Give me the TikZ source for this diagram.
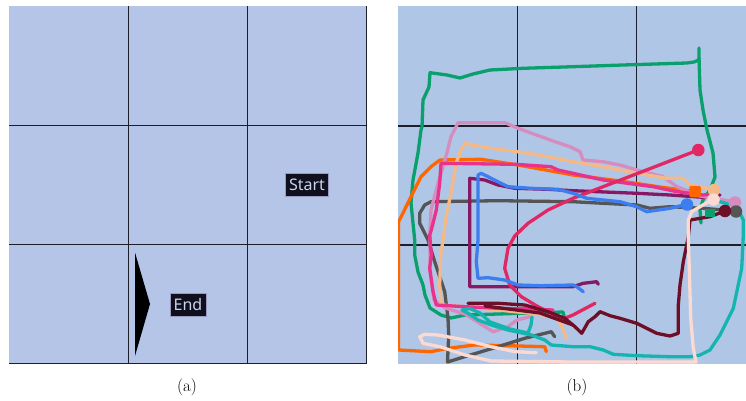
\documentclass[tikz,border=0pt]{standalone}
\usepackage{fontspec}
\newfontfamily\labelfont{Noto Sans}
\definecolor{bgA}{RGB}{180,197,232}
\definecolor{bgB}{RGB}{176,198,230}
\definecolor{gridc}{RGB}{28,30,42}
\definecolor{boxc}{RGB}{15,15,30}
\definecolor{boxtxt}{RGB}{200,212,240}
\definecolor{cgreen}{RGB}{10,160,110}
\definecolor{corange}{RGB}{255,102,0}
\definecolor{cmag}{RGB}{232,50,140}
\definecolor{ccrim}{RGB}{225,40,100}
\definecolor{cmauve}{RGB}{214,140,190}
\definecolor{cpeach}{RGB}{245,185,135}
\definecolor{cblue}{RGB}{60,125,240}
\definecolor{cpurple}{RGB}{135,25,100}
\definecolor{cgray}{RGB}{85,85,85}
\definecolor{cmaroon}{RGB}{110,15,40}
\definecolor{cteal}{RGB}{20,180,175}
\definecolor{cpink}{RGB}{252,218,210}
\begin{document}
\begin{tikzpicture}[x=1pt,y=-1pt,
  gridline/.style={draw=gridc,line width=1.3pt},
  traj/.style={line width=3.3pt,line join=round,line cap=round},
  lab/.style={fill=boxc,draw=black!60!blue!40,line width=0.4pt,text=boxtxt,font=\labelfont\fontsize{16}{16}\selectfont,inner xsep=3.5pt,inner ysep=0pt,minimum height=23pt},
  captext/.style={font=\fontsize{17}{19}\selectfont,inner sep=0pt},
  dotm/.style={circle,inner sep=0pt,minimum size=12.5pt}]
\useasboundingbox (0,0) rectangle (746,401);
\fill[white] (0,0) rectangle (746,401);
% ---------- panel (a)
\fill[bgA] (9,6.5) rectangle (367,363.5);
\draw[gridline] (128.3,6.5) -- (128.3,363.5);
\draw[gridline] (247.8,6.5) -- (247.8,363.5);
\draw[gridline] (9,125.3) -- (367,125.3);
\draw[gridline] (9,244.7) -- (367,244.7);
\draw[gridc,line width=1pt] (366.8,6.5) -- (366.8,363.5) -- (9,363.5);
\fill[black] (135,252.5) -- (150,304) -- (135,356) -- cycle;
\node[lab] (start) at (307,184.7) {Start};
\node[lab] (end) at (188,304.5) {End};
\node[captext] (capa) at (187,387) {(a)};
% ---------- panel (b)
\begin{scope}
\clip (398,6.5) rectangle (746,363.5);
\fill[bgB] (398,6.5) rectangle (746,363.5);
\draw[gridline] (517.3,6.5) -- (517.3,363.5);
\draw[gridline] (636.8,6.5) -- (636.8,363.5);
\draw[gridline] (398,126) -- (746,126);
\draw[gridline] (398,245) -- (746,245);
% green
\draw[traj,cgreen] (699,48) -- (699,60) -- (694,62) -- (687,63) -- (623,65) -- (573,66.7) -- (523,68.3) -- (490,70) -- (473,74) -- (460,78) -- (447,75) -- (430,72.7) -- (429,87) -- (423,100) -- (422,127) -- (421,130) -- (418,153) -- (413,180) -- (411,203) -- (414.7,240) -- (414.7,255) -- (418,272) -- (423,285) -- (425,295) -- (430,308) -- (441,315) -- (451,318) -- (465,315) -- (498,314) -- (531,313) -- (563,312) -- (565,320);
\draw[traj,cgreen] (699,58) -- (700,90) -- (703,110) -- (707,130) -- (713,153) -- (715,177) -- (710,190) -- (703,200) -- (700,210) -- (701,223);
% orange
\draw[traj,corange] (695,191.7) -- (660,187) -- (620,181) -- (573,175) -- (555,171.7) -- (518,165) -- (481,159.3) -- (440,160) -- (431,166.7) -- (421,176.7) -- (411,196.7) -- (403,213) -- (398.5,222) -- (398.5,350) -- (431,351.7) -- (448,348.3) -- (475,345) -- (508,345.7) -- (544.7,346.7) -- (546.3,351.7);
% gray
\draw[traj,cgray] (735,211.7) -- (723,210) -- (703,208.3) -- (670,206.7) -- (650,208.3) -- (637,205) -- (603,203.3) -- (573,201.7) -- (498,200.7) -- (431,201.7) -- (424.7,205) -- (419.7,213.3) -- (419.7,223.3) -- (424.7,233.3) -- (428,240) -- (434.7,261.7) -- (444.7,291.7) -- (448,318.3) -- (448.7,335) -- (447.5,362) -- (464.7,356.7) -- (498,346.7) -- (524.7,338.3) -- (551.3,331.7) -- (554.7,336.7);
% purple
\draw[traj,cpurple] (720,195) -- (703,197.3) -- (670,195) -- (637,193.3) -- (573,190.7) -- (548,189.3) -- (514.7,188.3) -- (498,185) -- (484.7,180) -- (469.7,178.3) -- (469.7,286.7) -- (573,286.7) -- (583.3,283.3) -- (596.7,281.7) -- (598.3,284.3);
% mauve
\draw[traj,cmauve] (735,202) -- (700,196) -- (677,186.7) -- (663,176.7) -- (637,170) -- (620,165) -- (603,161.7) -- (583,160) -- (580,151.7) -- (570,146.7) -- (555,141.7) -- (518,128.3) -- (505,122.7) -- (458,122.7) -- (451,136.7) -- (445,160) -- (438,183.3) -- (431,210) -- (430,230) -- (430,270) -- (434,300) -- (445,308) -- (465,314) -- (477,321.7) -- (493,331.7) -- (508,326.7) -- (517,320) -- (530,316.7);
% peach
\draw[traj,cpeach] (715,190) -- (707,188.3) -- (690,185) -- (683,178.3) -- (667,178.3) -- (637,173.3) -- (603,166.7) -- (573,161.7) -- (548,156.7) -- (518,151.7) -- (491,148.3) -- (471,145) -- (466,142.7) -- (461,150) -- (456,163.3) -- (451,193.3) -- (446,216.7) -- (443,240) -- (440.7,255) -- (439.7,285) -- (441.3,305) -- (464.7,306.7) -- (498,310) -- (531,313.3) -- (554.7,316.7) -- (561.3,325) -- (566.5,338.3);
% magenta
\draw[traj,cmag] (713,194) -- (703,195) -- (677,191.7) -- (653,186.7) -- (603,180) -- (573,173.3) -- (558,170) -- (551,166.7) -- (515,164.3) -- (441,163.3) -- (439.7,183.3) -- (436.3,210) -- (431.3,230) -- (429.7,235) -- (431.3,255) -- (429.7,268.3) -- (433,291.7) -- (436.3,305) -- (464.7,306.7) -- (498,308.3) -- (531,309) -- (553,310);
% crimson
\draw[traj,ccrim] (698.3,150) -- (573,198.3) -- (548,210) -- (528,223.3) -- (514.7,236) -- (508,248.3) -- (504.7,268.3) -- (509.7,285) -- (521.3,296.7) -- (538,306.7) -- (554.7,315) -- (564.7,318.3) -- (573,315) -- (595,303.3);
% blue
\draw[traj,cblue] (686.7,204.3) -- (670,208.3) -- (646.7,211.7) -- (636.7,206.7) -- (620,201.7) -- (586.7,198.3) -- (573,193.3) -- (558,189.3) -- (531,188.3) -- (508,186.7) -- (501,183.3) -- (488,176.7) -- (481,173.3) -- (478,175) -- (478,196.7) -- (478,240) -- (476.3,261.7) -- (478,278.3) -- (488,277.7) -- (504.7,280) -- (518,285) -- (541,285.7) -- (573,285) -- (576.7,286.7) -- (583.3,291.7);
% maroon
\draw[traj,cmaroon] (725,211) -- (710,216.7) -- (690,220) -- (688.3,236.7) -- (683.3,261.7) -- (680,285) -- (678.3,305) -- (678.3,333.3) -- (670,336) -- (656.7,333.3) -- (636.7,323.3) -- (620,318.3) -- (610,315.7) -- (600,311.7) -- (595,316.7) -- (588.3,321.7) -- (581.7,333.3) -- (575,326.7) -- (564.7,318.3) -- (548,311.7) -- (524.7,305) -- (498,303.3) -- (468,303.3);
\draw[traj,cmaroon] (485,306) -- (540,313) -- (573,325);
% teal
\draw[traj,cteal] (720,201.7) -- (736.7,206.7) -- (743.3,220) -- (743.3,235) -- (741.7,268.3) -- (733.3,308.3) -- (720,335) -- (710,350) -- (700,355) -- (690,356.7) -- (670,356.7) -- (636.7,355.7) -- (613.3,354.3) -- (603.3,350) -- (590,346.7) -- (573,346.7) -- (551.3,345) -- (544.7,340) -- (531.3,335) -- (508,330) -- (491.3,325) -- (478,320) -- (468,313.3) -- (462,310) -- (470,308.5) -- (480,313) -- (490,322) -- (510,329) -- (528,333) -- (531,325) -- (532,317);
% light pink
\draw[traj,cpink] (713.3,199) -- (700,206.7) -- (691.7,211.7) -- (688.3,220) -- (688.3,240) -- (689.3,268.3) -- (690.7,318.3) -- (693.3,348.3) -- (696,362) -- (640,362) -- (573,362) -- (491,361) -- (465,355) -- (441,347) -- (423,343.3) -- (419.7,336.7) -- (424.7,334.3) -- (438,335) -- (465,340) -- (491,346.7) -- (515,351.7) -- (536.3,352.7);
% markers
\node[dotm,fill=cmauve] (mMauve) at (735,202.5) {};
\node[dotm,fill=cgray] (mGray) at (736,211.5) {};
\node[dotm,fill=cmaroon] (mMaroon) at (725,211) {};
\node[fill=cgreen,inner sep=0pt,minimum width=10pt,minimum height=8pt] (mGreen) at (710,213) {};
\node[dotm,fill=ccrim] (mCrim) at (698.3,150) {};
\node[fill=corange,rounded corners=2pt,inner sep=0pt,minimum size=11.5pt] (mOrange) at (695,191.5) {};
\node[dotm,fill=cpeach] (mPeach) at (714,190) {};
\node[dotm,fill=cpink] (mPink) at (713.5,199.5) {};
\node[dotm,fill=cblue] (mBlue) at (687,204.5) {};
\end{scope}
\node[captext] (capb) at (577,387) {(b)};
\end{tikzpicture}
\end{document}
